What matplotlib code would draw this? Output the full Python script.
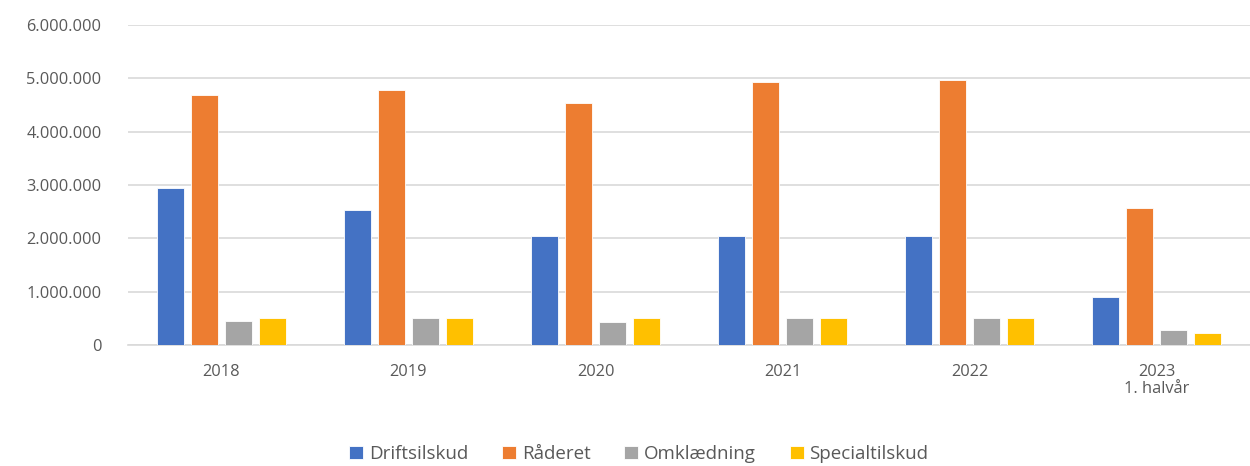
import numpy as np
import matplotlib
matplotlib.use("Agg")
import matplotlib.pyplot as plt
from matplotlib.ticker import FuncFormatter

# data
years = ["2018", "2019", "2020", "2021", "2022", "2023\n1. halvår"]
driftsilskud = [2935000, 2530000, 2050000, 2050000, 2050000, 900000]
raaderet = [4680000, 4790000, 4530000, 4940000, 4975000, 2570000]
omklaedning = [455000, 500000, 420000, 500000, 500000, 270000]
specialtilskud = [500000, 500000, 500000, 500000, 500000, 230000]

series = [
    ("Driftsilskud", driftsilskud, "#4472C4"),
    ("Råderet", raaderet, "#ED7D31"),
    ("Omklædning", omklaedning, "#A5A5A5"),
    ("Specialtilskud", specialtilskud, "#FFC000"),
]

plt.rcParams["font.family"] = ["Open Sans", "DejaVu Sans"]

fig = plt.figure(figsize=(12.5, 4.66), dpi=100)
ax = fig.add_axes([0.1024, 0.26, 0.8976, 0.686])

x = np.arange(len(years))
width = 0.144
step = 0.181
for i, (name, vals, col) in enumerate(series):
    ax.bar(x + (i - 1.5) * step, vals, width, color=col, label=name,
           edgecolor="white", linewidth=0.6, zorder=3)

ax.set_ylim(0, 6000000)
ax.set_xlim(-0.5, 5.5)
ax.set_yticks(np.arange(0, 6000001, 1000000))
ax.yaxis.set_major_formatter(FuncFormatter(lambda v, p: f"{int(v):,}".replace(",", ".")))
ax.set_xticks(x)
ax.set_xticklabels(years, linespacing=1.1)

ax.grid(axis="y", color="#D9D9D9", linewidth=1.2, zorder=0)
for s in ["top", "right", "left"]:
    ax.spines[s].set_visible(False)
ax.spines["bottom"].set_color("#D9D9D9")
ax.spines["bottom"].set_linewidth(1.2)
ax.tick_params(axis="both", length=0, labelsize=11.8, colors="#595959")
ax.tick_params(axis="y", pad=19)
ax.tick_params(axis="x", pad=14)

leg = fig.legend(loc="lower center", ncol=4, frameon=False, fontsize=13.5,
                 bbox_to_anchor=(0.511, -0.03), handlelength=0.75, handleheight=0.75,
                 handletextpad=0.3, columnspacing=1.8)
for t in leg.get_texts():
    t.set_color("#595959")

fig.savefig("out.png", dpi=100)
